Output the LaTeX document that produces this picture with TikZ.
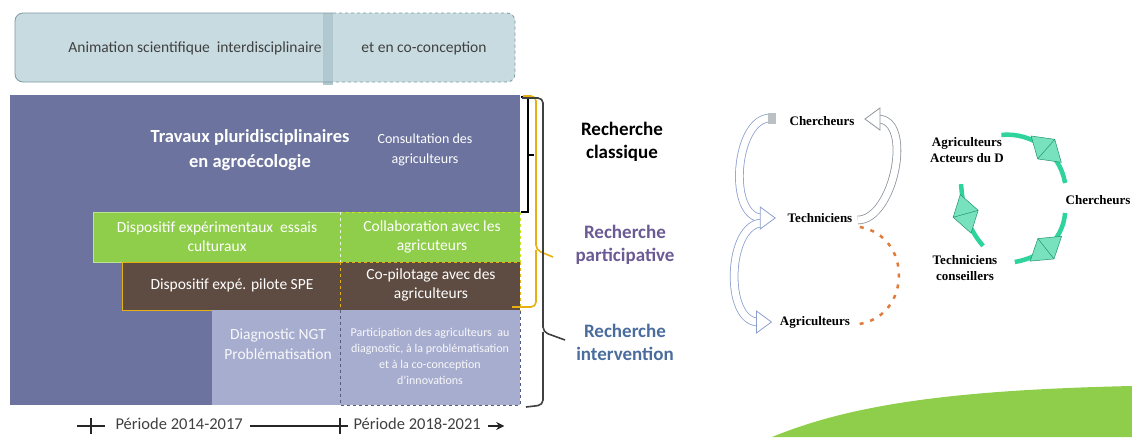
\documentclass[tikz,border=0pt]{standalone}
\usepackage{fontspec}
\setmainfont{Carlito}
\newfontfamily\serifbf{Liberation Serif}
\usetikzlibrary{positioning}
\usetikzlibrary{arrows.meta}
\usetikzlibrary{decorations.markings}
\usetikzlibrary{calc}

\definecolor{topfill}{HTML}{C8DBE0}
\definecolor{topstrip}{HTML}{B2C8D0}
\definecolor{topline}{HTML}{7E9AA4}
\definecolor{slate}{HTML}{6B739E}
\definecolor{lav}{HTML}{A7ADCE}
\definecolor{leaf}{HTML}{8FCE4A}
\definecolor{bark}{HTML}{5E4B41}
\definecolor{gold}{HTML}{E6B012}
\definecolor{violet}{HTML}{6B5A94}
\definecolor{steel}{HTML}{4B6D9E}
\definecolor{mint}{HTML}{2FD39C}
\definecolor{rust}{HTML}{E07B3A}
\definecolor{arrowblue}{HTML}{8CA0CC}
\definecolor{arrowgray}{HTML}{8E959E}

\begin{document}
\begin{tikzpicture}[x=1pt, y=-1pt,
			toptxt/.style = {text=black!75, font=\fontsize{15.5}{18}\selectfont},
			wtxt/.style = {text=white, align=center, font=\fontsize{15.5}{19}\selectfont},
			lab/.style = {align=center, font=\fontsize{19}{23}\selectfont\bfseries},
			serl/.style = {align=center, font=\serifbf\fontsize{13}{16}\selectfont\bfseries},
			hollow/.style = {line width=0.8pt, double=white, double distance=7pt},
			kite/.style = {fill=mint!65!white, draw=mint!70!black, line width=0.5pt},
			cycle/.style = {mint, line width=4.5pt, postaction={decorate},
				decoration={markings,
					mark=at position 0.55 with {\draw[kite] (-20,0) -- (0,13) -- (20,0) -- (0,-13) -- cycle (0,13) -- (0,-13);}}}
			]
			\useasboundingbox (0,0) rectangle (1132,437);
			% green swoosh
			\fill[leaf] (772,437) .. controls (850,405) and (950,390) .. (1132,386) -- (1132,437) -- cycle;
			% top band
			\fill[topfill, rounded corners=8] (15,13) rectangle (515,82);
			\fill[topstrip] (323,13) rectangle (333,85);
			\draw[topline, thick, rounded corners=8] (333,13) -- (15,13) -- (15,82) -- (333,82);
			\draw[topline, thick, dashed, rounded corners=8] (333,13) -- (515,13) -- (515,82) -- (333,82);
			\node (anim) [toptxt] at (195,48) {Animation scientifique\ \ interdisciplinaire};
			\node (coco) [toptxt] at (424,48) {et en co-conception};
			% blocks
			\fill[slate] (10,95) rectangle (520,405);
			\fill[leaf] (93,212) rectangle (520,262);
			\draw[leaf!60!white, semithick] (340,212) -- (93,212) -- (93,262) -- (122,262);
			\draw[leaf!50!yellow, semithick, dashed] (340,212) -- (520,212) -- (520,262);
			\fill[bark] (122,262) rectangle (520,310);
			\draw[gold, thick] (340,262) -- (122,262) -- (122,310) -- (212,310);
			\draw[gold, thick, dashed] (340,262) -- (520,262) -- (520,310) -- (340,310);
			\fill[lav] (212,310) rectangle (520,405);
			\draw[slate!80!black, semithick, dashed] (340,310) -- (340,405) -- (520,405) -- (520,310);
			\draw[white!80!leaf, semithick, dashed] (340,212) -- (340,262);
			\draw[gold, semithick, dashed] (340,262) -- (340,310);
			\node (trav) [wtxt, font=\fontsize{18.5}{25}\selectfont\bfseries] at (250,150) {Travaux pluridisciplinaires\\en agroécologie};
			\node (consu) [wtxt, font=\fontsize{14}{20}\selectfont] at (425,150) {Consultation des\\agriculteurs};
			\node (essai) [wtxt] at (217,237) {Dispositif expérimentaux\ \ essais\\culturaux};
			\node (colla) [wtxt] at (432,237) {Collaboration avec les\\agricuteurs};
			\node (spe) [wtxt] at (232,285) {Dispositif expé. pilote SPE};
			\node (copil) [wtxt] at (431,285) {Co-pilotage avec des\\agriculteurs};
			\node (diag) [wtxt, text=white!92!lav, font=\fontsize{15.5}{20}\selectfont] at (278,344) {Diagnostic NGT\\Problématisation};
			\node (parti) [wtxt, text=white!92!lav, font=\fontsize{12}{16}\selectfont] at (430,356) {Participation des agriculteurs\ \ au\\diagnostic, à la problématisation\\et à la co-conception\\d'innovations};
			% timeline
			\node (p1) [toptxt, font=\fontsize{16.5}{19}\selectfont, anchor=west] at (112,424) {Période 2014-2017};
			\node (p2) [toptxt, font=\fontsize{16.5}{19}\selectfont, anchor=west] at (350,424) {Période 2018-2021};
			\coordinate (t1) at (91,426);
			\coordinate (t2) at (340,426);
			\draw[black!85, line width=1.6pt] ($(t1)+(-14,0)$) -- ($(t1)+(14,0)$) ($(t1)+(0,-8)$) -- ($(t1)+(0,8)$);
			\draw[black!85, line width=1.6pt] (p1.east) ++(4,2) -- ($(t2)+(8,0)$) ($(t2)+(0,-8)$) -- ($(t2)+(0,8)$);
			\draw[black!85, line width=1.6pt, -{Stealth[length=8pt, width=8pt]}] (p2.east) ++(4,2) -- ++(16,0);
			% braces
			\draw[black, line width=1.6pt] (521,97) -- (528,97) -- (528,212) -- (521,212) (528,155) -- (534,155);
			\draw[gold, line width=1.6pt, rounded corners=5] (523,96) -- (536,96) -- (536,250) -- (553,257) (536,250) -- (536,307) -- (512,307);
			\draw[black!75, line width=1.6pt, rounded corners=5] (522,98) -- (543,98) -- (543,332) -- (565,340) (543,332) -- (543,405) -- (526,407);
			\node (rclas) [lab, text=black] at (622,142) {Recherche\\classique};
			\node (rpart) [lab, text=violet] at (625,245) {Recherche\\participative};
			\node (rinte) [lab, text=steel] at (625,342) {Recherche\\intervention};
			% researcher / technician / farmer chain
			\node (ch1) [serl] at (822,121) {Chercheurs};
			\node (te1) [serl] at (820,218) {Techniciens};
			\node (ag1) [serl] at (815,322) {Agriculteurs};
			\draw[hollow, arrowblue] ($(ch1.west)+(-16,-3)$) to[out=180, in=180, looseness=0.9] ($(te1.west)+(-22,0)$);
			\draw[hollow, arrowblue] ($(te1.west)+(-22,5)$) to[out=180, in=180, looseness=0.9] ($(ag1.west)+(-18,0)$);
			\fill[arrowgray!60!white] ($(ch1.west)+(-18,-8)$) rectangle ($(ch1.west)+(-10,3)$);
			\draw[arrowblue, fill=white, line width=0.8pt] ($(te1.west)+(-24,-11)$) -- ($(te1.west)+(-9,0)$) -- ($(te1.west)+(-24,11)$) -- cycle;
			\draw[arrowblue, fill=white, line width=0.8pt] ($(ag1.west)+(-20,-11)$) -- ($(ag1.west)+(-5,0)$) -- ($(ag1.west)+(-20,11)$) -- cycle;
			\draw[hollow, arrowgray] ($(te1.east)+(2,2)$) to[out=0, in=0, looseness=0.9] ($(ch1.east)+(20,-2)$);
			\draw[arrowgray, fill=white, line width=0.8pt] ($(ch1.east)+(22,-13)$) -- ($(ch1.east)+(7,-2)$) -- ($(ch1.east)+(22,9)$) -- cycle;
			\draw[rust, line width=2.5pt, dash pattern=on 4pt off 7pt] ($(te1.east)+(4,9)$) to[out=-10, in=10, looseness=1.4] ($(ag1.east)+(6,2)$);
			% cycle
			\node (ag2) [serl] at (967,150) {Agriculteurs\\Acteurs du D};
			\node (ch2) [serl] at (1098,200) {Chercheurs};
			\node (te2) [serl] at (965,268) {Techniciens\\conseillers};
			\draw[cycle] ($(ag2.north east)+(-6,1)$) to[out=5, in=100] ($(ch2.west)+(3,-17)$);
			\draw[cycle] ($(ch2.west)+(3,13)$) to[out=-95, in=10] ($(te2.east)+(14,-6)$);
			\draw[cycle] ($(te2.north)+(18,-6)$) to[out=130, in=-85] ($(ag2.south)+(-6,18)$);
		\end{tikzpicture}
\end{document}
